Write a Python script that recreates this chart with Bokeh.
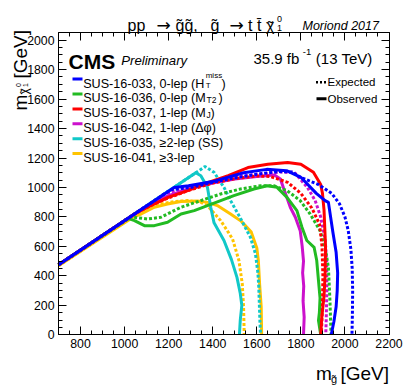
import math
from bokeh.plotting import figure
from bokeh.models import Range1d, LinearAxis, SingleIntervalTicker, Label, CustomJSTickFormatter
from bokeh.embed import file_html
from bokeh.resources import INLINE

# ---------------- data ----------------
# SUS-16-033, 0-lep (HT miss)
ht_obs_x = [700, 1225, 1290, 1400, 1540, 1645, 1735, 1800, 1870, 1910, 1925, 1945, 1960, 1967, 1965, 1960, 1950, 1938]
ht_obs_y = [475, 1000, 1012, 1040, 1100, 1123, 1114, 1069, 960, 911, 899, 700, 560, 420, 300, 190, 90, 0]
ht_exp_x = [700, 1210, 1300, 1400, 1500, 1600, 1700, 1760, 1800, 1880, 1940, 1975, 2000, 2015, 2027, 2033, 2035, 2034, 2032]
ht_exp_y = [475, 985, 1000, 1035, 1065, 1090, 1108, 1105, 1068, 1020, 960, 890, 800, 707, 580, 450, 300, 150, 0]

# SUS-16-036, 0-lep (MT2)
mt2_obs_x = [700, 1015, 1045, 1090, 1135, 1195, 1256, 1316, 1376, 1436, 1496, 1587, 1647, 1692, 1737, 1782, 1805, 1827, 1860, 1872, 1880, 1887, 1884, 1880, 1890]
mt2_obs_y = [475, 790, 775, 741, 741, 764, 820, 843, 877, 911, 945, 990, 1012, 1001, 933, 843, 730, 640, 594, 504, 368, 250, 150, 97, 0]
mt2_exp_x = [700, 1030, 1105, 1165, 1256, 1346, 1436, 1526, 1617, 1677, 1737, 1797, 1842, 1887, 1910, 1925, 1932, 1937]
mt2_exp_y = [475, 800, 786, 798, 866, 911, 956, 990, 1012, 1012, 979, 911, 820, 707, 594, 459, 233, 0]

# SUS-16-037, 1-lep (MJ)
mj_obs_x = [700, 1045, 1110, 1200, 1290, 1380, 1470, 1560, 1650, 1740, 1800, 1857, 1890, 1898, 1905, 1912, 1910, 1905, 1895, 1890]
mj_obs_y = [475, 820, 870, 935, 980, 1035, 1080, 1135, 1158, 1170, 1158, 1103, 1020, 960, 850, 600, 400, 260, 120, 0]
mj_exp_x = [700, 1060, 1120, 1200, 1300, 1400, 1500, 1600, 1660, 1740, 1800, 1850, 1885, 1896, 1900, 1898, 1893]
mj_exp_y = [475, 835, 880, 930, 985, 1030, 1060, 1078, 1075, 1035, 960, 860, 750, 600, 400, 200, 0]

# SUS-16-042, 1-lep (Delta phi)
dp_obs_x = [700, 1100, 1200, 1300, 1400, 1500, 1600, 1680, 1707, 1720, 1752, 1775, 1797, 1806, 1812, 1808, 1813, 1810, 1815, 1812]
dp_obs_y = [475, 875, 945, 995, 1030, 1058, 1075, 1085, 1058, 1001, 866, 798, 707, 600, 500, 420, 330, 230, 120, 0]
dp_exp_x = [700, 1100, 1180, 1300, 1400, 1500, 1600, 1700, 1770, 1830, 1865, 1890, 1910, 1917, 1918, 1915, 1913]
dp_exp_y = [475, 875, 955, 1010, 1040, 1070, 1090, 1105, 1103, 1000, 911, 800, 650, 500, 300, 100, 0]

# SUS-16-035, >=2-lep (SS)
ss_obs_x = [700, 1323, 1346, 1376, 1391, 1406, 1451, 1485, 1510, 1525, 1532, 1525, 1521]
ss_obs_y = [475, 1100, 1080, 1001, 866, 760, 640, 510, 390, 280, 200, 100, 0]
ss_exp_x = [700, 1365, 1406, 1451, 1481, 1526, 1571, 1594, 1605, 1609, 1614, 1617]
ss_exp_y = [475, 1142, 1103, 1001, 911, 790, 662, 549, 420, 323, 97, 0]

# SUS-16-041, >=3-lep
ml_obs_x = [700, 1040, 1075, 1135, 1195, 1256, 1331, 1376, 1421, 1481, 1530, 1575, 1600, 1607, 1613, 1620, 1622]
ml_obs_y = [468, 800, 820, 866, 888, 905, 908, 899, 877, 820, 770, 697, 590, 504, 340, 190, 0]
ml_exp_x = [700, 1060, 1105, 1165, 1226, 1286, 1346, 1376, 1410, 1436, 1466, 1490, 1519, 1534, 1540, 1543]
ml_exp_y = [468, 830, 854, 888, 905, 911, 899, 877, 820, 775, 707, 650, 504, 346, 188, 0]

legend_labels = ["SUS-16-033, 0-lep (H", "SUS-16-036, 0-lep (M", "SUS-16-037, 1-lep (M",
                 "SUS-16-042, 1-lep (\u0394\u03c6)", "SUS-16-035, \u22652-lep (SS)", "SUS-16-041, \u22653-lep"]
colors = ["#0000ff", "#22bb22", "#ff0000", "#cc11cc", "#11c8c8", "#ffc400"]

x_ticks_interval = 200
y_ticks_interval = 200
X0, X1 = 700, 2200
Y0, Y1 = 0, 2050

# ---------------- layout ----------------
# the canvas fills the window (bokeh's page template has no body margin);
# the data rectangle sits at page x 58..388.5, y 32.3..334.3
W, H = 406, 390
PL, PR, PT, PB = 58.0, 388.5, 32.3, 334.3
FONT = "Liberation Sans"
sx = (PR - PL) / (X1 - X0)
sy = (PB - PT) / (Y1 - Y0)


def fx(px):
    return X0 + (px - PL) / sx


def fy(py):
    return Y0 + (PB - py) / sy


p = figure(width=W, height=H, output_backend="svg", toolbar_location=None,
           x_range=Range1d(fx(0), fx(W)), y_range=Range1d(fy(H), fy(0)),
           x_axis_type=None, y_axis_type=None,
           min_border_left=0, min_border_right=0, min_border_top=0, min_border_bottom=0)
p.title.visible = False
p.grid.visible = False
p.outline_line_color = None
p.background_fill_color = "white"
p.border_fill_color = "white"


def make_axis(interval, labels, loc, bounds):
    ax = LinearAxis(ticker=SingleIntervalTicker(interval=interval, num_minor_ticks=4))
    ax.fixed_location = loc
    ax.bounds = bounds
    ax.major_tick_in = 8
    ax.major_tick_out = 0
    ax.minor_tick_in = 4
    ax.minor_tick_out = 0
    ax.axis_line_color = "black"
    ax.major_tick_line_color = "black"
    ax.minor_tick_line_color = "black"
    ax.major_label_text_font = FONT
    ax.major_label_text_color = "black"
    if labels:
        ax.major_label_text_font_size = "12.3px"
        ax.major_label_standoff = 4
    else:
        ax.formatter = CustomJSTickFormatter(code="return ''")
        ax.major_label_text_font_size = "0px"
        ax.major_label_standoff = 0
    return ax


p.add_layout(make_axis(x_ticks_interval, True, Y0, (X0, X1)), "below")
p.add_layout(make_axis(y_ticks_interval, True, X0, (Y0, Y1)), "left")
p.add_layout(make_axis(x_ticks_interval, False, Y1, (X0, X1)), "above")
p.add_layout(make_axis(y_ticks_interval, False, X1, (Y0, Y1)), "right")

series = [
    (ml_exp_x, ml_exp_y, ml_obs_x, ml_obs_y, colors[5]),
    (ss_exp_x, ss_exp_y, ss_obs_x, ss_obs_y, colors[4]),
    (dp_exp_x, dp_exp_y, dp_obs_x, dp_obs_y, colors[3]),
    (mt2_exp_x, mt2_exp_y, mt2_obs_x, mt2_obs_y, colors[1]),
    (mj_exp_x, mj_exp_y, mj_obs_x, mj_obs_y, colors[2]),
    (ht_exp_x, ht_exp_y, ht_obs_x, ht_obs_y, colors[0]),
]
for ex, ey, ox, oy, c in series:
    p.line(ex, ey, line_color=c, line_width=3, line_dash="3 2")
    p.line(ox, oy, line_color=c, line_width=3, line_join="round")


def txt(px, py, s, size, style="normal", align="left", baseline="alphabetic", angle=0.0, font=FONT):
    p.add_layout(Label(x=fx(px), y=fy(py), text=s, text_font=font,
                       text_font_size=f"{size}px", text_font_style=style,
                       text_align=align, text_baseline=baseline, angle=angle,
                       text_color="black"))


# title (pieces placed as in the reference)
txt(127, 24.5, "pp", 16)
txt(163, 24.5, "\u2192", 17, align="center", font="DejaVu Sans")
txt(175, 24.5, "g\u0303g\u0303,", 16)
txt(210, 24.5, "g\u0303", 16)
txt(236, 24.5, "\u2192", 17, align="center", font="DejaVu Sans")
txt(247.5, 24.5, "t t\u0304", 16)
txt(265.5, 24.5, "\u03c7", 16)
txt(270.0, 26.5, "\u02dc", 16, align="center")
txt(276.5, 18.5, "0", 9)
txt(276.5, 27.5, "1", 9)
txt(302, 25, "Moriond 2017", 12.5, style="italic")

# CMS
txt(68, 60.7, "CMS", 21, style="bold")
txt(120.7, 60, "Preliminary", 13.2, style="italic")
txt(253, 58.3, "35.9 fb", 15)
txt(302.3, 51.5, "-1", 9.5)
txt(372, 58.3, "(13 TeV)", 15, align="right")

# legend
row_base = [83.0, 97.9, 112.8, 127.7, 142.6, 157.5]
for i, (lab, c) in enumerate(zip(legend_labels, colors)):
    yb = row_base[i]
    ym = yb - 4.4
    p.segment(x0=fx(72), y0=fy(ym), x1=fx(82), y1=fy(ym), line_color=c, line_width=3)
    txt(82.7, yb, lab, 12.6)
# sub / superscripts of legend
txt(205.2, row_base[0] - 8, "miss", 8)
txt(205.2, row_base[0] + 2, "T", 8)
txt(221.0, row_base[0], ")", 12.6)
txt(206.0, row_base[1] + 2, "T2", 8.5)
txt(218.0, row_base[1], ")", 12.6)
txt(206.0, row_base[2] + 2, "J", 8.5)
txt(210.0, row_base[2], ")", 12.6)

# expected / observed legend
p.segment(x0=fx(315.5), y0=fy(81.7), x1=fx(327), y1=fy(81.7), line_color="black", line_width=2.5, line_dash="2 2")
p.segment(x0=fx(316), y0=fy(98.3), x1=fx(326), y1=fy(98.3), line_color="black", line_width=3)
txt(327, 81.7, "Expected", 11.5, baseline="middle")
txt(327, 98.3, "Observed", 11.5, baseline="middle")

# x axis label
txt(315.5, 373, "m", 19)
txt(330.5, 378, "g\u0303", 11)
txt(388.5, 373, "[GeV]", 19, align="right")

# y axis label (rotated)
ang = math.pi / 2
txt(19.5, 110, "m", 19, angle=ang)
txt(23.5, 94, "\u03c7", 12, angle=ang)
txt(25.0, 91, "\u02dc", 12, align="center", angle=ang)
txt(17.5, 86.5, "0", 7, angle=ang)
txt(24.5, 86.5, "1", 7, angle=ang)
txt(19.5, 78, "[GeV]", 19, angle=ang)

open("out.html", "w").write(file_html(p, INLINE))
